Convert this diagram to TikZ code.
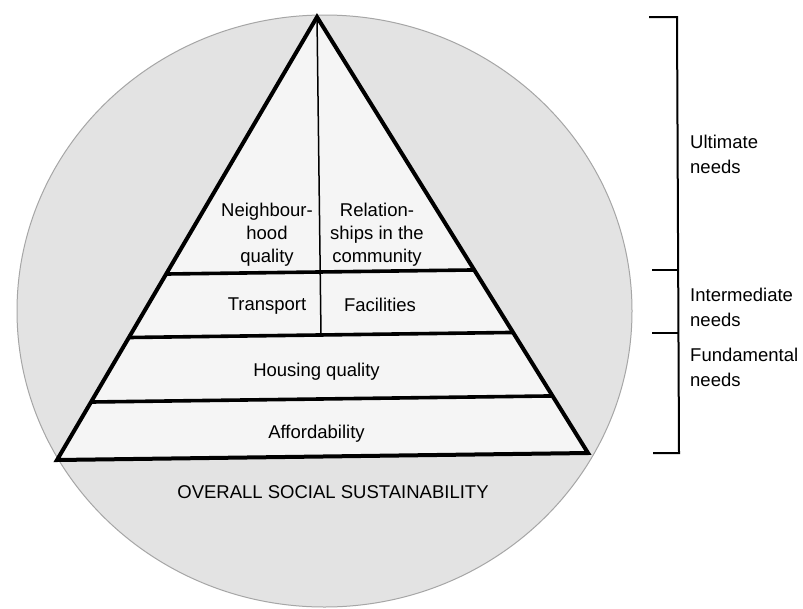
\documentclass[tikz,border=0pt]{standalone}
\usepackage{fontspec}
\setmainfont{Liberation Sans}
\begin{document}
\begin{tikzpicture}[x=1pt,y=-1pt,
  lbl/.style={font=\fontsize{18.5}{23}\selectfont, align=center, inner sep=0pt},
  side/.style={font=\fontsize{18.5}{25}\selectfont, align=left, anchor=west, inner sep=0pt},
  tri/.style={line width=4pt, line join=miter},
  bar/.style={line width=3.6pt},
  brk/.style={line width=2pt},
]
\useasboundingbox (0,0) rectangle (803,608);
\fill[white] (0,0) rectangle (803,608);
% background disc
\filldraw[fill=gray!22, draw=gray!70, line width=1pt] (324.5,311) ellipse [x radius=307.5, y radius=296];
% pyramid corners
\coordinate (A) at (317,17);
\coordinate (BL) at (57,460);
\coordinate (BR) at (588,453);
% guide points of the tier lines
\coordinate (l1a) at (0,276.2);  \coordinate (l1b) at (800,265.6);
\coordinate (l2a) at (0,339.2);  \coordinate (l2b) at (800,328.6);
\coordinate (l3a) at (0,403.2);  \coordinate (l3b) at (800,392.6);
\coordinate (P1l) at (intersection of A--BL and l1a--l1b);
\coordinate (P1r) at (intersection of A--BR and l1a--l1b);
\coordinate (P2l) at (intersection of A--BL and l2a--l2b);
\coordinate (P2r) at (intersection of A--BR and l2a--l2b);
\coordinate (P3l) at (intersection of A--BL and l3a--l3b);
\coordinate (P3r) at (intersection of A--BR and l3a--l3b);
\coordinate (D) at (321,335);
\fill[gray!8] (A) -- (BL) -- (BR) -- cycle;
\draw[bar] (P1l) -- (P1r);
\draw[bar] (P2l) -- (P2r);
\draw[bar] (P3l) -- (P3r);
\draw[line width=1.5pt] (A) -- (D);
\draw[tri] (A) -- (BL) -- (BR) -- cycle;
% texts
\node[lbl] (nq) at (267,235) {Neighbour-\\hood\\quality};
\node[lbl] (rc) at (377,235) {Relation-\\ships in the\\community};
\node[lbl] (tr) at (267,306) {Transport};
\node[lbl] (fa) at (380,305) {Facilities};
\node[lbl] (hq) at (316.5,372) {Housing quality};
\node[lbl] (af) at (316.5,434) {Affordability};
\node[lbl] (os) at (333,492) {OVERALL SOCIAL SUSTAINABILITY};
% bracket
\coordinate (bt) at (677,17);
\coordinate (bb) at (679,453);
\coordinate (b1) at (678,270);
\coordinate (b2) at (678.5,333);
\coordinate (t0) at (649,17);
\coordinate (t1) at (652,270);
\coordinate (t2) at (652,333);
\coordinate (t3) at (653,453);
\draw[brk] (t0) -- (bt) -- (bb) -- (t3);
\draw[brk] (t1) -- (b1);
\draw[brk] (t2) -- (b2);
\node[side] (un) at (690,154.5) {Ultimate\\needs};
\node[side] (in) at (690,307.5) {Intermediate\\needs};
\node[side] (fn) at (690,367.5) {Fundamental\\needs};
\end{tikzpicture}
\end{document}
